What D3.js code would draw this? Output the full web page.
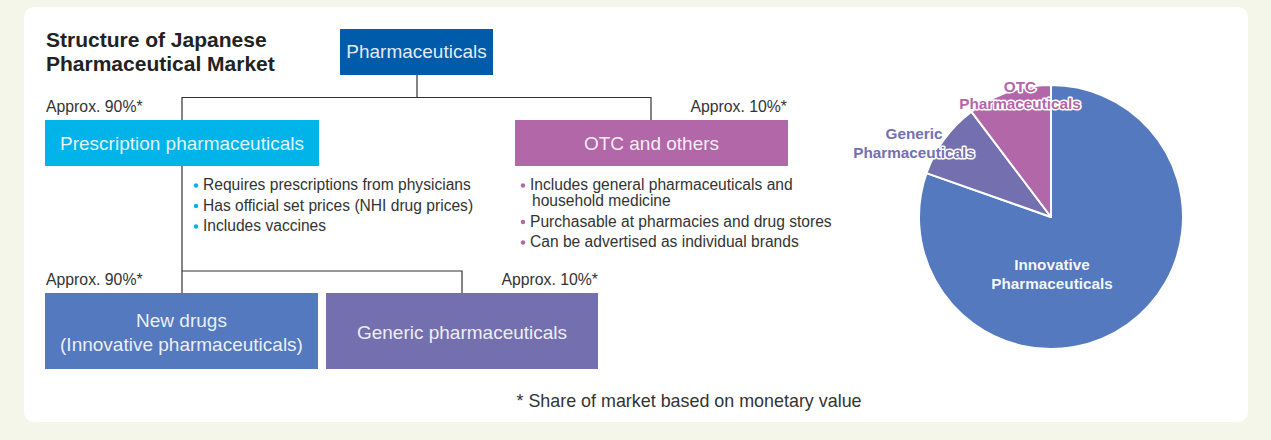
<!DOCTYPE html>
<html>
<head>
<meta charset="utf-8">
<script src="https://cdn.jsdelivr.net/npm/d3@7"></script>
<style>
  html, body { margin: 0; padding: 0; background: #f3f6e8; }
  svg { display: block; font-family: "Liberation Sans", Arial, Helvetica, sans-serif; }
</style>
</head>
<body>
<svg id="chart" width="1271" height="440"></svg>
<script>
// --- data ---
var titleLines = ["Structure of Japanese", "Pharmaceutical Market"];
var rootName = "Pharmaceuticals";
var level1Names = ["Prescription pharmaceuticals", "OTC and others"];
var level1Shares = ["Approx. 90%*", "Approx. 10%*"];
var level2Names = [["New drugs", "(Innovative pharmaceuticals)"], ["Generic pharmaceuticals"]];
var level2Shares = ["Approx. 90%*", "Approx. 10%*"];
var rxBullets = [["Requires prescriptions from physicians"], ["Has official set prices (NHI drug prices)"], ["Includes vaccines"]];
var otcBullets = [["Includes general pharmaceuticals and", "household medicine"], ["Purchasable at pharmacies and drug stores"], ["Can be advertised as individual brands"]];
var footnote = "* Share of market based on monetary value";

var pieLabels = [["Innovative", "Pharmaceuticals"], ["Generic", "Pharmaceuticals"], ["OTC", "Pharmaceuticals"]];
var pieValues = [80.4, 9.3, 10.3];

// --- colours ---
var cRoot = "#005baa", cRx = "#00b4ea", cOtc = "#b267a8", cNew = "#5479be", cGen = "#7470b0";
var textCol = "#333", lineCol = "#333";

var svg = d3.select("#chart");

// card
svg.append("rect")
    .attr("x", 24).attr("y", 7)
    .attr("width", 1224).attr("height", 415)
    .attr("rx", 10)
    .attr("fill", "#fff");

// title
svg.append("text")
    .attr("x", 46).attr("y", 47)
    .attr("font-size", 21).attr("font-weight", "bold")
    .attr("fill", "#222")
    .selectAll("tspan").data(titleLines).enter().append("tspan")
    .attr("x", 46).attr("dy", function(d, i) { return i ? 23.5 : 0; })
    .text(function(d) { return d; });

function box(x, y, w, h, fill, lines, base, lh) {
    svg.append("rect")
        .attr("x", x).attr("y", y).attr("width", w).attr("height", h)
        .attr("fill", fill);
    svg.append("text")
        .attr("text-anchor", "middle")
        .attr("font-size", 19)
        .attr("fill", "#fff").attr("fill-opacity", 0.9)
        .selectAll("tspan").data(lines).enter().append("tspan")
        .attr("x", x + w / 2)
        .attr("y", function(d, i) { return base + i * (lh || 0); })
        .text(function(d) { return d; });
}

function line(pts) {
    svg.append("path")
        .attr("d", d3.line()(pts))
        .attr("fill", "none")
        .attr("stroke", lineCol)
        .attr("stroke-width", 1.2);
}

// connectors
line([[417, 75], [417, 97.5]]);
line([[182, 120], [182, 97.5], [651, 97.5], [651, 120]]);
line([[182, 166], [182, 293]]);
line([[182, 271], [462, 271], [462, 293]]);

// boxes
box(340, 29, 153, 46, cRoot, [rootName], 58);
box(45, 120, 274, 46, cRx, [level1Names[0]], 149.5);
box(515, 120, 273, 46, cOtc, [level1Names[1]], 149.5);
box(45, 293, 273, 76, cNew, level2Names[0], 327, 24);
box(326, 293, 272, 76, cGen, level2Names[1], 339);

// share labels
function share(x, y, anchor, t) {
    svg.append("text")
        .attr("x", x).attr("y", y)
        .attr("text-anchor", anchor)
        .attr("font-size", 15.8).attr("fill", textCol)
        .text(t);
}
share(46, 112, "start", level1Shares[0]);
share(787, 112, "end", level1Shares[1]);
share(46, 285, "start", level2Shares[0]);
share(598, 285, "end", level2Shares[1]);

// bullet lists
function bullets(x, y0, items, col) {
    var y = y0;
    items.forEach(function(item) {
        svg.append("circle")
            .attr("cx", x - 7).attr("cy", y - 4.5)
            .attr("r", 2.2).attr("fill", col);
        item.forEach(function(t, j) {
            svg.append("text")
                .attr("x", j ? x + 2 : x).attr("y", y)
                .attr("font-size", 15.6).attr("fill", textCol)
                .text(t);
            y += j < item.length - 1 ? 16 : 0;
        });
        y += 20.5;
    });
}
bullets(203, 190, rxBullets, cRx);
bullets(530, 190, otcBullets, cOtc);

// footnote
svg.append("text")
    .attr("x", 689).attr("y", 407)
    .attr("text-anchor", "middle")
    .attr("font-size", 17.9).attr("fill", textCol)
    .text(footnote);

// --- pie ---
var cx = 1051, cy = 217, r = 132;
var pieCols = [cNew, cGen, cOtc];
var arcs = d3.pie().sort(null).value(function(d) { return d; })(pieValues);
var arc = d3.arc().innerRadius(0).outerRadius(r);
var pg = svg.append("g").attr("transform", "translate(" + cx + "," + cy + ")");
pg.selectAll("path").data(arcs).enter().append("path")
    .attr("d", arc)
    .attr("fill", function(d, i) { return pieCols[i]; })
    .attr("stroke", "#fff").attr("stroke-width", 2).attr("stroke-linejoin", "round");

// label anchors relative to pie centre
var labelPos = [[1, 53], [-137, -78], [-31, -125]];
var labelLh = 19;
pieLabels.forEach(function(lines, i) {
    var t = pg.append("text")
        .attr("text-anchor", "middle")
        .attr("font-size", 15.3).attr("font-weight", "bold");
    if (i === 0) {
        t.attr("fill", "#fff").attr("fill-opacity", 0.95);
    } else {
        t.attr("fill", pieCols[i])
            .attr("stroke", "#fff").attr("stroke-width", 3)
            .attr("paint-order", "stroke").attr("stroke-linejoin", "round");
    }
    t.selectAll("tspan").data(lines).enter().append("tspan")
        .attr("x", labelPos[i][0])
        .attr("y", function(d, j) { return labelPos[i][1] + j * (i === 2 ? 17 : labelLh); })
        .text(function(d) { return d; });
});
</script>
</body>
</html>
